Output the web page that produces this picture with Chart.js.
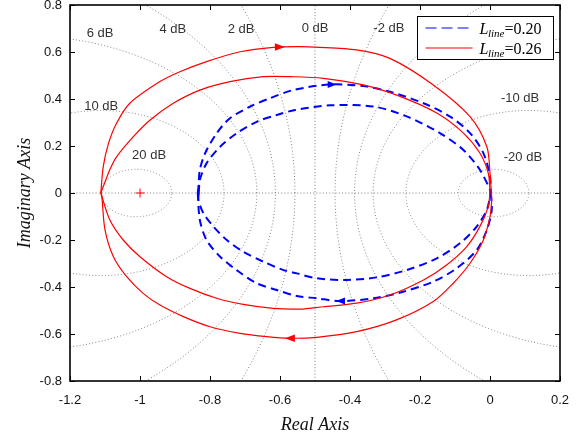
<!DOCTYPE html>
<html><head><meta charset="utf-8">
<script src="https://cdn.jsdelivr.net/npm/chart.js@4/dist/chart.umd.min.js"></script>
<style>html,body{margin:0;padding:0;background:#fff}</style>
</head><body>
<canvas id="c" width="586" height="441"></canvas>
<script>
// ---- tick labels / grid definitions ----
const xTicks = [-1.2, -1, -0.8, -0.6, -0.4, -0.2, 0, 0.2];
const yTicks = [-0.8, -0.6, -0.4, -0.2, 0, 0.2, 0.4, 0.6, 0.8];
const mCircleDb = [20, 10, 6, 4, 2, -2, -4, -6, -10, -20];
const mLabelText = ['6 dB', '4 dB', '2 dB', '0 dB', '-2 dB', '10 dB', '20 dB', '-10 dB', '-20 dB'];
const mLabelX = [-1.114, -0.906, -0.711, -0.5, -0.289, -1.111, -0.974, 0.086, 0.094];
const mLabelY = [0.681, 0.698, 0.698, 0.702, 0.702, 0.37, 0.162, 0.404, 0.153];
const seriesValues = ['0.20', '0.26'];
const criticalPoint = [-1, 0];

// ---- L_line = 0.26 (red) ----
const redOuterTop = [[-1.112,0],[-1.105,0.112],[-1.09,0.211],[-1.067,0.297],[-1.029,0.382],[-0.943,0.474],[-0.886,0.516],[-0.81,0.559],[-0.714,0.601],[-0.619,0.62],[-0.543,0.623],[-0.5,0.621],[-0.381,0.609],[-0.286,0.573],[-0.162,0.46],[-0.057,0.325],[-0.009,0.197],[0,0.085],[0.004,0]];
const redOuterBottom = [[-1.112,0],[-1.109,-0.016],[-1.1,-0.157],[-1.076,-0.271],[-1.038,-0.356],[-0.991,-0.427],[-0.943,-0.477],[-0.876,-0.526],[-0.8,-0.569],[-0.714,-0.597],[-0.638,-0.611],[-0.571,-0.618],[-0.495,-0.614],[-0.381,-0.59],[-0.267,-0.54],[-0.162,-0.462],[-0.105,-0.384],[-0.057,-0.299],[-0.019,-0.2],[0,-0.101],[0.005,-0.03],[0.004,0]];
const redInnerTop = [[-1.112,0],[-1.105,0.027],[-1.086,0.1],[-1.067,0.154],[-1.019,0.24],[-0.971,0.311],[-0.905,0.382],[-0.829,0.438],[-0.743,0.474],[-0.648,0.495],[-0.571,0.495],[-0.476,0.488],[-0.362,0.46],[-0.257,0.411],[-0.152,0.34],[-0.076,0.255],[-0.029,0.17],[-0.005,0.085],[0,0.007]];
const redInnerBottom = [[-1.112,0],[-1.086,-0.115],[-1.048,-0.2],[-1.0,-0.271],[-0.924,-0.356],[-0.857,-0.406],[-0.781,-0.448],[-0.705,-0.474],[-0.619,-0.491],[-0.543,-0.494],[-0.476,-0.484],[-0.381,-0.469],[-0.286,-0.434],[-0.19,-0.37],[-0.124,-0.306],[-0.067,-0.229],[-0.029,-0.143],[-0.005,-0.058],[0,0.007]];
const redArrows = [[-0.586, 0.621, 1], [-0.586, -0.618, -1]];

// ---- L_line = 0.20 (blue) ----
const blueOuterTop = [[-0.835,0],[-0.833,0.027],[-0.829,0.098],[-0.814,0.169],[-0.781,0.254],[-0.743,0.318],[-0.686,0.367],[-0.629,0.403],[-0.562,0.438],[-0.457,0.462],[-0.362,0.455],[-0.286,0.431],[-0.19,0.382],[-0.114,0.325],[-0.057,0.255],[-0.019,0.17],[0,0.07],[0.002,0]];
const blueOuterBottom = [[-0.835,0],[-0.829,-0.115],[-0.81,-0.2],[-0.771,-0.271],[-0.724,-0.328],[-0.667,-0.384],[-0.609,-0.413],[-0.552,-0.438],[-0.495,-0.448],[-0.429,-0.46],[-0.333,-0.448],[-0.248,-0.42],[-0.162,-0.377],[-0.095,-0.32],[-0.038,-0.243],[-0.009,-0.157],[0.005,-0.072],[0.002,0]];
const blueInnerTop = [[-0.832,0],[-0.829,0.055],[-0.81,0.126],[-0.771,0.197],[-0.724,0.254],[-0.667,0.303],[-0.609,0.332],[-0.557,0.353],[-0.457,0.373],[-0.333,0.368],[-0.238,0.326],[-0.143,0.255],[-0.076,0.183],[-0.029,0.099],[0,0.014],[0.002,0]];
const blueInnerBottom = [[-0.832,0],[-0.833,-0.03],[-0.819,-0.086],[-0.79,-0.143],[-0.752,-0.2],[-0.705,-0.25],[-0.648,-0.292],[-0.59,-0.328],[-0.552,-0.342],[-0.495,-0.363],[-0.409,-0.37],[-0.324,-0.359],[-0.238,-0.328],[-0.152,-0.278],[-0.086,-0.214],[-0.038,-0.143],[-0.009,-0.072],[0,-0.016],[0.002,0]];
const blueArrows = [[-0.438, 0.462, 1], [-0.44, -0.46, -1]];

// ---- build ----
const toPts = a => a.map(p => ({x: p[0], y: p[1]}));
function mCircle(db) {
  const m = Math.pow(10, db / 20), m2 = m * m;
  const c = -m2 / (m2 - 1), r = Math.abs(m / (m2 - 1));
  const pts = [];
  const N = 900;
  for (let k = 0; k <= N; k++) {
    const t = 2 * Math.PI * k / N;
    pts.push({x: c + r * Math.cos(t), y: r * Math.sin(t)});
  }
  return pts;
}
const gridColor = '#808080';
const gridDash = [1, 2.2];
const gridSets = mCircleDb.map(db => ({
  data: mCircle(db), showLine: true, borderColor: gridColor, borderWidth: 1,
  borderDash: gridDash, pointRadius: 0, order: 10, tension: 0
}));
gridSets.push({data: toPts([[-0.5, -0.8], [-0.5, 0.8]]), showLine: true, borderColor: gridColor, borderWidth: 1, borderDash: gridDash, pointRadius: 0, order: 10});
gridSets.push({data: toPts([[-1.2, 0], [0.2, 0]]), showLine: true, borderColor: gridColor, borderWidth: 1, borderDash: gridDash, pointRadius: 0, order: 10});

const blueArcs = [blueOuterTop, blueOuterBottom, blueInnerTop, blueInnerBottom].map(arc => ({
  label: 'L_line=' + seriesValues[0], data: toPts(arc), showLine: true, borderColor: '#0000ff', borderWidth: 2,
  borderDash: [8, 5], pointRadius: 0, tension: 0.3, order: 2}));
const redArcs = [redOuterTop, redOuterBottom, redInnerTop, redInnerBottom].map(arc => ({
  label: 'L_line=' + seriesValues[1], data: toPts(arc), showLine: true, borderColor: '#ff0000', borderWidth: 1.2,
  pointRadius: 0, tension: 0.3, order: 1}));

const fmt = v => { const r = Math.round(v * 10) / 10; return r === 0 ? '0' : String(r); };
const tickFont = {family: "'Liberation Sans', Arial, sans-serif", size: 13};
const titleFont = {family: "'Liberation Serif', 'Times New Roman', serif", size: 18, style: 'italic'};

const overlay = {
  id: 'overlay',
  afterDatasetsDraw(chart) {
    const ctx = chart.ctx, xs = chart.scales.x, ys = chart.scales.y, a = chart.chartArea;
    ctx.save();
    // M-circle labels
    ctx.fillStyle = '#333';
    ctx.font = "13px 'Liberation Sans', Arial, sans-serif";
    ctx.textAlign = 'center'; ctx.textBaseline = 'middle';
    mLabelText.forEach((t, i) => ctx.fillText(t, xs.getPixelForValue(mLabelX[i]), ys.getPixelForValue(mLabelY[i])));
    // critical point +
    const cx = xs.getPixelForValue(criticalPoint[0]), cy = ys.getPixelForValue(criticalPoint[1]);
    ctx.strokeStyle = '#ff0000'; ctx.lineWidth = 1;
    ctx.beginPath(); ctx.moveTo(cx - 4.5, cy); ctx.lineTo(cx + 4.5, cy); ctx.moveTo(cx, cy - 4.5); ctx.lineTo(cx, cy + 4.5); ctx.stroke();
    // arrows
    function arrows(list, color, len, half) {
      ctx.fillStyle = color;
      list.forEach(ar => {
        const px = xs.getPixelForValue(ar[0]), py = ys.getPixelForValue(ar[1]), d = ar[2];
        ctx.beginPath(); ctx.moveTo(px, py); ctx.lineTo(px - d * len, py - half); ctx.lineTo(px - d * len, py + half); ctx.closePath(); ctx.fill();
      });
    }
    arrows(redArrows, '#ff0000', 10, 3.8);
    arrows(blueArrows, '#0000ff', 9, 3.5);
    // box
    ctx.strokeStyle = '#000'; ctx.lineWidth = 1.6;
    ctx.strokeRect(a.left, a.top, a.right - a.left, a.bottom - a.top);
    // inner ticks
    ctx.lineWidth = 1;
    ctx.beginPath();
    xTicks.forEach(v => { const p = Math.round(xs.getPixelForValue(v)) + 0.5;
      ctx.moveTo(p, a.bottom); ctx.lineTo(p, a.bottom - 5); ctx.moveTo(p, a.top); ctx.lineTo(p, a.top + 5); });
    yTicks.forEach(v => { const p = Math.round(ys.getPixelForValue(v)) + 0.5;
      ctx.moveTo(a.left, p); ctx.lineTo(a.left + 5, p); ctx.moveTo(a.right, p); ctx.lineTo(a.right - 5, p); });
    ctx.stroke();
    // legend
    const lw = 136, lh = 43, lx = Math.round(a.right - 7 - lw) + 0.5, ly = Math.round(a.top + 11) + 0.5;
    ctx.fillStyle = '#fff'; ctx.fillRect(lx, ly, lw, lh);
    ctx.strokeStyle = '#000'; ctx.lineWidth = 1; ctx.strokeRect(lx, ly, lw, lh);
    const rows = [{c: '#0000ff', dash: [11, 5], w: 1.2, v: seriesValues[0]}, {c: '#ff0000', dash: [], w: 1.2, v: seriesValues[1]}];
    rows.forEach((r, i) => {
      const yy = ly + 11.5 + i * 20;
      ctx.strokeStyle = r.c; ctx.lineWidth = r.w; ctx.setLineDash(r.dash);
      ctx.beginPath(); ctx.moveTo(lx + 8, yy); ctx.lineTo(lx + 55, yy); ctx.stroke();
      ctx.setLineDash([]);
      ctx.fillStyle = '#000'; ctx.textAlign = 'left'; ctx.textBaseline = 'alphabetic';
      let tx = lx + 62; const base = yy + 5.5;
      ctx.font = "italic 16px 'Liberation Serif', 'Times New Roman', serif";
      ctx.fillText('L', tx, base); tx += ctx.measureText('L').width - 0.5;
      ctx.font = "italic 11px 'Liberation Serif', 'Times New Roman', serif";
      ctx.fillText('line', tx, base + 3); tx += ctx.measureText('line').width;
      ctx.font = "16px 'Liberation Serif', 'Times New Roman', serif";
      ctx.fillText('=' + r.v, tx, base);
    });
    ctx.restore();
  }
};

new Chart(document.getElementById('c'), {
  type: 'scatter',
  data: {datasets: redArcs.concat(blueArcs, gridSets)},
  options: {
    responsive: false, devicePixelRatio: 1, animation: false,
    layout: {padding: {left: 0, right: 26, top: 5, bottom: 0}},
    plugins: {legend: {display: false}, tooltip: {enabled: false}},
    scales: {
      x: {
        type: 'linear', min: -1.2, max: 0.2,
        afterBuildTicks: s => { s.ticks = xTicks.map(v => ({value: v})); },
        ticks: {callback: v => fmt(v), font: tickFont, color: '#111', padding: 12, maxRotation: 0, autoSkip: false},
        grid: {display: false, drawTicks: false}, border: {display: false},
        title: {display: true, text: 'Real Axis', font: titleFont, color: '#111', padding: {top: 0, bottom: 5}},
        afterFit: s => { s.height = 60; s.paddingLeft = 0; s.paddingRight = 0; }
      },
      y: {
        type: 'linear', min: -0.8, max: 0.8,
        afterBuildTicks: s => { s.ticks = yTicks.map(v => ({value: v})); },
        ticks: {callback: v => fmt(v), font: tickFont, color: '#111', padding: 8, autoSkip: false},
        grid: {display: false, drawTicks: false}, border: {display: false},
        title: {display: true, text: 'Imaginary Axis', font: titleFont, color: '#111', padding: {top: 14, bottom: 0}},
        afterFit: s => { s.width = 70; s.paddingTop = 0; s.paddingBottom = 0; }
      }
    }
  },
  plugins: [overlay]
});
</script>
</body></html>
